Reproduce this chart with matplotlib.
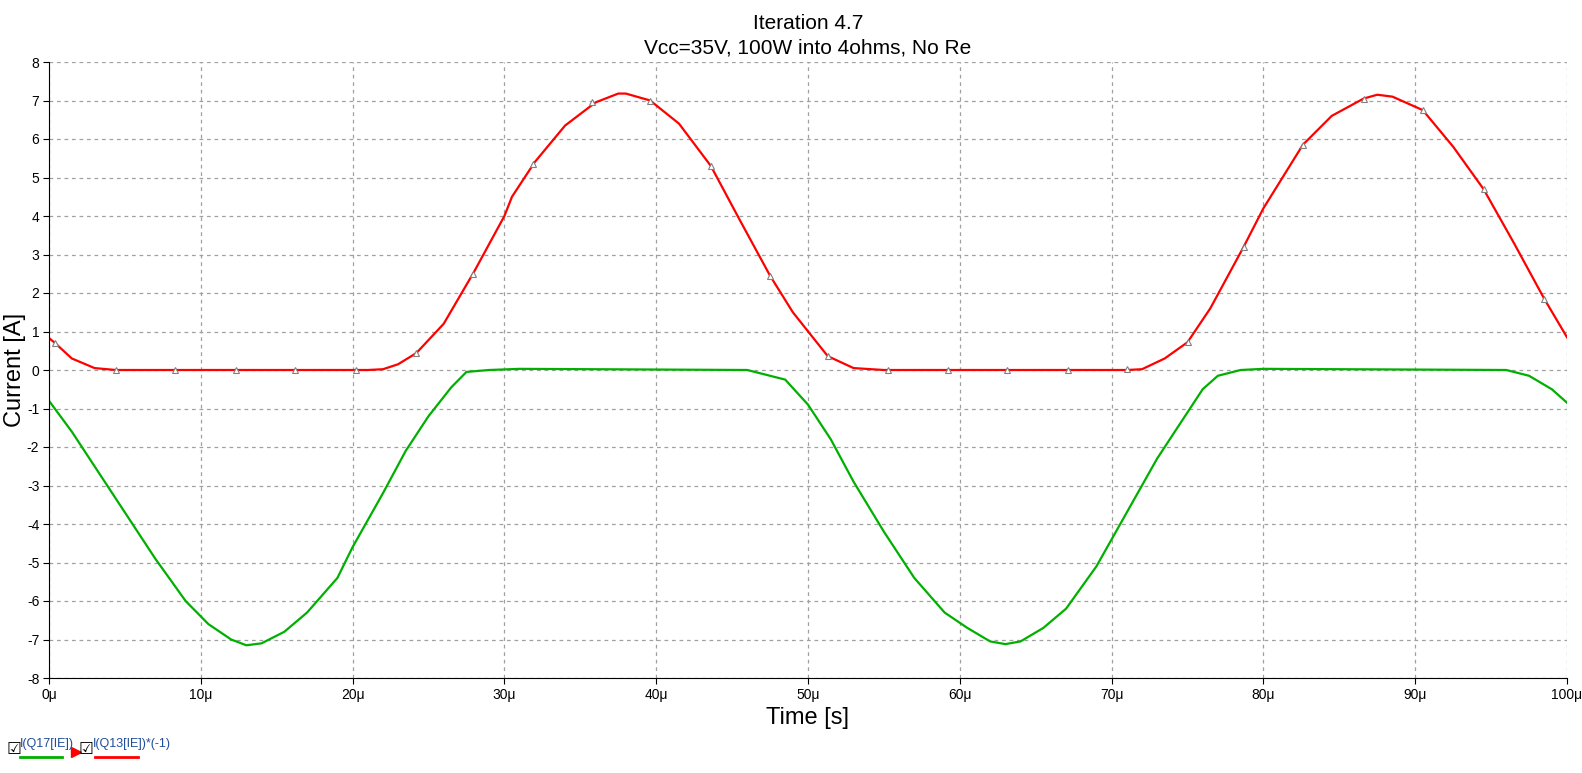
import numpy as np
import matplotlib.pyplot as plt
from matplotlib.lines import Line2D

plt.rcParams['font.family'] = ['Liberation Sans', 'DejaVu Sans']
plt.rcParams['axes.unicode_minus'] = False

# I(Q13[IE])*(-1), time in microseconds
red_t = [0, 0.4, 1.5, 3, 4.4, 8, 12, 16, 21, 22, 23, 24.2, 26, 28, 30, 30.5, 32, 34, 36, 37.5,
         38, 39.6, 41.5, 43.6, 45.5, 47.5, 49, 51.3, 53, 55, 60, 65, 71, 72, 73.5, 75, 76.5,
         78.7, 80, 82.6, 84.5, 86.6, 87.5, 88.5, 90.5, 92.5, 94.5, 96.5, 98.5, 100]
red_i = [0.83, 0.7, 0.3, 0.05, 0, 0, 0, 0, 0, 0.02, 0.15, 0.44, 1.2, 2.55, 4.0, 4.5, 5.4, 6.35,
         6.95, 7.18, 7.18, 7.0, 6.4, 5.3, 3.9, 2.45, 1.5, 0.36, 0.05, 0, 0, 0, 0, 0.02, 0.3,
         0.72, 1.6, 3.2, 4.2, 5.85, 6.6, 7.05, 7.15, 7.1, 6.75, 5.8, 4.7, 3.3, 1.85, 0.85]

# marker positions on the red trace
mark_t = [0.4, 4.4, 8.3, 12.3, 16.2, 20.2, 24.2, 27.9, 31.9, 35.8, 39.6, 43.6, 47.5, 51.3,
          55.3, 59.2, 63.1, 67.1, 71.0, 75.0, 78.7, 82.6, 86.6, 90.5, 94.5, 98.5]
mark_i = [0.7, 0, 0, 0, 0, 0, 0.44, 2.5, 5.35, 6.95, 7.0, 5.3, 2.45, 0.36,
          0, 0, 0, 0, 0.02, 0.72, 3.2, 5.85, 7.05, 6.75, 4.7, 1.85]

# I(Q17[IE])
green_t = [0, 1.5, 3, 5, 7, 9, 10.5, 12, 13, 14, 15.5, 17, 19, 20, 22, 23.5, 25, 26.5, 27.5,
           29, 31, 46, 48.5, 50, 51.5, 53, 55, 57, 59, 60.5, 62, 63, 64, 65.5, 67, 69, 71, 73,
           74.5, 76, 77, 78.5, 80, 96, 97.5, 99, 100]
green_i = [-0.8, -1.6, -2.5, -3.7, -4.9, -6.0, -6.6, -7.0, -7.15, -7.1, -6.8, -6.3, -5.4, -4.6,
           -3.2, -2.1, -1.2, -0.45, -0.05, 0, 0.03, 0, -0.25, -0.9, -1.8, -2.9, -4.2, -5.4,
           -6.3, -6.7, -7.05, -7.12, -7.05, -6.7, -6.2, -5.1, -3.7, -2.3, -1.4, -0.5, -0.15,
           0, 0.03, 0, -0.15, -0.5, -0.85]

fig = plt.figure(figsize=(15.82, 7.73), dpi=100)
ax = fig.add_axes([49 / 1582, 1 - 678 / 773, (1567 - 49) / 1582, (678 - 62) / 773])

ax.plot(green_t, green_i, color='#00b000', lw=1.6)
ax.plot(red_t, red_i, color='#ff0000', lw=1.6)
ax.plot(mark_t, mark_i, ls='none', marker='^', ms=4, mfc='white', mec='#808080', mew=0.8)

ax.set_xlim(0, 100)
ax.set_ylim(-8, 8)
ax.set_xticks(np.arange(0, 101, 10))
ax.set_xticklabels([f'{v}μ' for v in range(0, 101, 10)])
ax.set_yticks(np.arange(-8, 9, 1))
ax.tick_params(labelsize=10, length=4, pad=3)
ax.grid(True, ls=(0, (3, 3)), color='#a0a0a0', lw=0.9)
for s in ['top', 'right']:
    ax.spines[s].set_visible(False)
ax.set_xlabel('Time [s]', fontsize=17)
fig.text(15 / 1582, 1 - 370 / 773, 'Current [A]', fontsize=17, rotation=90,
         ha='center', va='center')
ax.set_title('Iteration 4.7\nVcc=35V, 100W into 4ohms, No Re', fontsize=15, linespacing=1.4)

# legend strip at bottom left
fig.text(7 / 1582, 1 - 754 / 773, '☑', fontsize=12, family=['DejaVu Sans'])
fig.text(20 / 1582, 1 - 747 / 773, 'I(Q17[IE])', fontsize=9, color='#1f4e9a')
fig.add_artist(Line2D([20 / 1582, 62 / 1582], [1 - 757 / 773] * 2, color='#00b000', lw=2))
fig.text(79 / 1582, 1 - 754 / 773, '☑', fontsize=12, family=['DejaVu Sans'])
fig.text(93 / 1582, 1 - 747 / 773, 'I(Q13[IE])*(-1)', fontsize=9, color='#1f4e9a')
fig.add_artist(Line2D([95 / 1582, 138 / 1582], [1 - 757 / 773] * 2, color='#ff0000', lw=2))
fig.add_artist(Line2D([76 / 1582], [1 - 752 / 773], marker='>', color='#ff0000', ms=7))

fig.savefig('out.png', dpi=100)
